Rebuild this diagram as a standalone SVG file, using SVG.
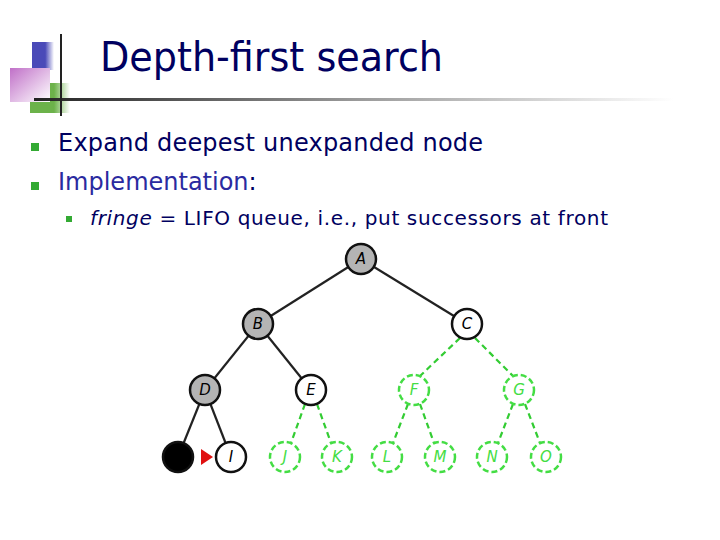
<svg xmlns="http://www.w3.org/2000/svg" width="720" height="540" viewBox="0 0 720 540">
<defs>
<linearGradient id="rule" x1="0" x2="1"><stop offset="0" stop-color="#222"/><stop offset="0.5" stop-color="#999"/><stop offset="1" stop-color="#fff"/></linearGradient>
<linearGradient id="pink" x1="0" y1="0" x2="1" y2="1"><stop offset="0" stop-color="#c070c8"/><stop offset="1" stop-color="#fff"/></linearGradient>
<linearGradient id="blue" x1="0" x2="1"><stop offset="0.6" stop-color="#4a4ab8"/><stop offset="1" stop-color="#fff"/></linearGradient>
<linearGradient id="green" x1="0" x2="1"><stop offset="0.6" stop-color="#6cb24a"/><stop offset="1" stop-color="#fff"/></linearGradient>
<style>
.t{font-family:Tahoma,"DejaVu Sans",sans-serif}
.e{stroke:#222;stroke-width:2.2}
.g{stroke:#3c3;stroke-width:2.2;stroke-dasharray:6,4;fill:none}
.n circle{stroke:#111;stroke-width:2.5}
.gray{fill:#b4b4b4}
.white{fill:#fff}
.gn circle{fill:#fff;stroke:#4d4;stroke-width:2.5;stroke-dasharray:6,3}
.lab{font-family:"DejaVu Sans",sans-serif;font-style:italic;font-size:15px;text-anchor:middle}
.gn text{fill:#4d4}
</style>
</defs>
<rect x="32" y="42" width="22" height="28" fill="url(#blue)"/>
<rect x="30" y="83" width="40" height="30" fill="url(#green)"/>
<rect x="10" y="68" width="40" height="34" fill="url(#pink)"/>
<rect x="34" y="98" width="640" height="3" fill="url(#rule)"/>
<line x1="61" y1="34" x2="61" y2="116" stroke="#222" stroke-width="2"/>
<text class="t" x="100" y="71" font-size="40" fill="#000060" textLength="343" lengthAdjust="spacingAndGlyphs">Depth-first search</text>
<rect x="31" y="143" width="8" height="8" fill="#3a3"/>
<rect x="31" y="182" width="8" height="8" fill="#3a3"/>
<rect x="66" y="216" width="6" height="6" fill="#3a3"/>
<text class="t" x="58" y="151" font-size="24" fill="#000060" textLength="425">Expand deepest unexpanded node</text>
<text class="t" x="58" y="190" font-size="24" fill="#000060"><tspan fill="#2a2aa0">Implementation</tspan>:</text>
<text class="t" x="90" y="225" font-size="20" fill="#000060" textLength="518"><tspan font-style="italic">fringe</tspan> = LIFO queue, i.e., put successors at front</text>
<g id="connectors">
<line class="e" x1="361" y1="259" x2="258" y2="324"/>
<line class="e" x1="361" y1="259" x2="467" y2="324"/>
<line class="e" x1="258" y1="324" x2="205" y2="390"/>
<line class="e" x1="258" y1="324" x2="311" y2="390"/>
<line class="e" x1="205" y1="390" x2="178" y2="457"/>
<line class="e" x1="205" y1="390" x2="231" y2="457"/>
<line class="g" x1="460" y1="338" x2="420" y2="376"/>
<line class="g" x1="475" y1="338" x2="513" y2="376"/>
<line class="g" x1="305" y1="404" x2="291" y2="443"/>
<line class="g" x1="317" y1="404" x2="331" y2="443"/>
<line class="g" x1="408" y1="404" x2="393" y2="443"/>
<line class="g" x1="420" y1="404" x2="434" y2="443"/>
<line class="g" x1="513" y1="404" x2="498" y2="443"/>
<line class="g" x1="525" y1="404" x2="540" y2="443"/>
<polygon points="201,449 213,457 201,465" fill="#e01010"/>
</g>
<g id="nA" class="n"><circle class="gray" cx="361" cy="259" r="15"/><text class="lab" x="361" y="264">A</text></g>
<g id="nB" class="n"><circle class="gray" cx="258" cy="324" r="15"/><text class="lab" x="258" y="329">B</text></g>
<g id="nC" class="n"><circle class="white" cx="467" cy="324" r="15"/><text class="lab" x="467" y="329">C</text></g>
<g id="nD" class="n"><circle class="gray" cx="205" cy="390" r="15"/><text class="lab" x="205" y="395">D</text></g>
<g id="nE" class="n"><circle class="white" cx="311" cy="390" r="15"/><text class="lab" x="311" y="395">E</text></g>
<g id="nH" class="n"><circle fill="#000" cx="178" cy="457" r="15"/></g>
<g id="nI" class="n"><circle class="white" cx="231" cy="457" r="15"/><text class="lab" x="231" y="462">I</text></g>
<g id="nF" class="gn"><circle cx="414" cy="390" r="15"/><text class="lab" x="414" y="395">F</text></g>
<g id="nG" class="gn"><circle cx="519" cy="390" r="15"/><text class="lab" x="519" y="395">G</text></g>
<g id="nJ" class="gn"><circle cx="285" cy="457" r="15"/><text class="lab" x="285" y="462">J</text></g>
<g id="nK" class="gn"><circle cx="337" cy="457" r="15"/><text class="lab" x="337" y="462">K</text></g>
<g id="nL" class="gn"><circle cx="387" cy="457" r="15"/><text class="lab" x="387" y="462">L</text></g>
<g id="nM" class="gn"><circle cx="440" cy="457" r="15"/><text class="lab" x="440" y="462">M</text></g>
<g id="nN" class="gn"><circle cx="492" cy="457" r="15"/><text class="lab" x="492" y="462">N</text></g>
<g id="nO" class="gn"><circle cx="546" cy="457" r="15"/><text class="lab" x="546" y="462">O</text></g>
</svg>
